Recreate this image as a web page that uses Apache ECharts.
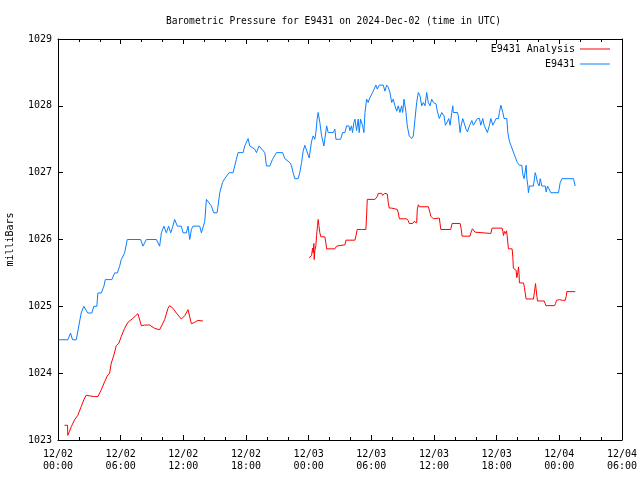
<!DOCTYPE html>
<html>
<head>
<meta charset="utf-8">
<script src="https://cdn.jsdelivr.net/npm/echarts@6/dist/echarts.min.js"></script>
<style>html,body{margin:0;padding:0;background:#fff}#c{width:640px;height:480px}</style>
</head>
<body>
<div id="c"></div>
<script>
// hours since 2024-12-02 00:00 UTC
var blueHours = [0.1,0.94,1.2,1.39,1.75,2.22,2.47,2.64,2.86,3.24,3.43,3.72,3.82,4.14,4.39,4.53,5.16,5.42,5.68,5.9,6.06,6.38,6.63,7.91,8.13,8.46,9.42,9.73,9.9,10.14,10.37,10.59,10.79,11.0,11.17,11.43,11.81,11.97,12.29,12.45,12.61,12.77,12.92,13.57,13.73,14.05,14.21,14.36,14.69,14.91,15.23,15.32,15.49,15.74,15.96,16.38,16.76,16.92,17.08,17.24,17.72,17.88,18.2,18.36,18.84,19.0,19.25,19.8,19.96,20.28,20.54,20.92,21.5,21.72,22.2,22.36,22.51,22.67,22.99,23.15,23.32,23.47,23.63,23.8,24.05,24.28,24.43,24.59,24.69,24.81,24.91,25.07,25.24,25.46,25.65,25.72,25.87,26.35,26.51,26.61,27.06,27.25,27.47,27.63,27.85,27.95,28.1,28.2,28.33,28.43,28.59,28.74,28.84,28.97,29.17,29.29,29.39,29.55,29.7,29.8,29.93,30.12,30.25,30.44,30.57,30.76,31.14,31.3,31.47,31.62,31.78,31.95,32.1,32.26,32.43,32.58,32.74,32.9,33.0,33.13,33.32,33.44,33.63,33.86,34.02,34.18,34.34,34.5,34.66,34.82,34.98,35.14,35.3,35.45,35.62,35.78,35.94,36.19,36.32,36.51,36.58,36.74,36.96,37.09,37.28,37.41,37.54,37.7,37.8,37.85,38.24,38.33,38.5,38.59,38.75,38.88,39.07,39.2,39.39,39.62,39.77,39.93,40.15,40.35,40.48,40.67,40.8,40.99,41.11,41.31,41.44,41.63,41.76,41.95,42.17,42.26,42.4,42.59,42.71,42.97,43.07,43.22,43.36,43.55,43.67,43.86,43.99,44.18,44.41,44.51,44.63,44.76,44.82,44.89,44.99,45.04,45.14,45.52,45.69,45.78,45.91,46.07,46.17,46.33,46.65,46.74,46.87,47.06,47.19,47.92,48.08,48.25,49.36,49.52];
var blueValues = [1024.5,1024.5,1024.6,1024.5,1024.5,1024.9,1025.0,1025.0,1024.9,1024.9,1025.0,1025.0,1025.2,1025.2,1025.3,1025.4,1025.4,1025.5,1025.5,1025.6,1025.7,1025.8,1026.0,1026.0,1025.9,1026.0,1026.0,1025.9,1026.1,1026.2,1026.1,1026.2,1026.1,1026.2,1026.3,1026.2,1026.2,1026.1,1026.1,1026.2,1026.0,1026.15,1026.2,1026.2,1026.1,1026.27,1026.6,1026.6,1026.5,1026.4,1026.4,1026.5,1026.7,1026.85,1026.91,1027.0,1027.0,1027.1,1027.2,1027.3,1027.3,1027.4,1027.51,1027.4,1027.35,1027.3,1027.4,1027.3,1027.1,1027.1,1027.2,1027.3,1027.3,1027.21,1027.15,1027.1,1027.0,1026.91,1026.91,1027.0,1027.15,1027.32,1027.41,1027.4,1027.22,1027.47,1027.55,1027.5,1027.6,1027.8,1027.9,1027.75,1027.55,1027.4,1027.4,1027.7,1027.6,1027.6,1027.65,1027.5,1027.5,1027.6,1027.6,1027.7,1027.7,1027.63,1027.7,1027.6,1027.75,1027.8,1027.63,1027.8,1027.6,1027.8,1027.7,1027.6,1027.9,1028.1,1028.05,1028.1,1028.11,1028.2,1028.22,1028.31,1028.25,1028.31,1028.31,1028.22,1028.31,1028.28,1028.2,1028.05,1028.1,1028.0,1027.92,1028.0,1027.9,1028.0,1027.9,1028.1,1027.9,1027.7,1027.55,1027.51,1027.55,1027.8,1028.05,1028.2,1028.15,1028.0,1028.05,1028.0,1028.2,1028.05,1028.0,1028.1,1028.05,1028.03,1027.92,1027.81,1027.81,1027.9,1027.85,1027.71,1027.76,1027.81,1027.71,1027.9,1028.0,1027.9,1027.9,1027.85,1027.6,1027.7,1027.81,1027.81,1027.65,1027.61,1027.7,1027.78,1027.71,1027.71,1027.81,1027.81,1027.71,1027.81,1027.71,1027.7,1027.6,1027.71,1027.81,1027.71,1027.71,1027.81,1027.81,1027.9,1028.01,1027.9,1027.81,1027.81,1027.6,1027.47,1027.41,1027.41,1027.28,1027.2,1027.15,1027.11,1027.11,1026.97,1026.91,1026.91,1027.11,1026.91,1026.8,1026.7,1026.8,1026.8,1027.0,1026.95,1026.85,1026.8,1026.91,1026.8,1026.8,1026.71,1026.8,1026.8,1026.7,1026.7,1026.85,1026.91,1026.91,1026.8];
var redHours = [0.62,0.91,0.94,1.1,1.27,1.58,1.9,2.22,2.47,2.7,3.02,3.5,3.82,4.14,4.46,4.72,4.94,5.1,5.35,5.58,5.83,6.06,6.38,6.69,7.17,7.65,7.81,7.98,8.29,8.77,8.94,9.25,9.73,9.89,10.21,10.53,10.69,11.01,11.33,11.65,11.81,12.13,12.45,12.61,12.77,13.09,13.4,13.57,13.88,
  19.0,
  24.05,24.21,24.28,24.37,24.43,24.5,24.53,24.59,24.69,24.76,24.85,24.91,24.98,25.07,25.17,25.55,25.65,25.72,26.51,26.67,26.99,27.47,27.57,28.43,28.52,28.65,29.07,29.22,29.48,29.55,29.61,30.35,30.51,30.6,30.66,30.99,31.08,31.3,31.53,31.62,31.72,31.95,32.04,32.48,32.58,32.68,33.39,33.54,33.63,33.96,34.09,34.21,34.34,34.4,34.5,34.59,35.46,35.62,35.69,35.88,35.94,36.03,36.51,36.58,36.65,37.6,37.73,38.5,38.59,38.69,39.45,39.55,39.68,39.77,39.93,40.1,41.44,41.56,42.52,42.59,42.65,42.74,42.84,42.94,43.0,43.07,43.13,43.48,43.55,43.6,43.77,43.86,43.93,44.03,44.09,44.15,44.18,44.57,44.66,44.76,44.82,45.52,45.62,45.72,45.78,45.85,45.91,46.55,46.65,46.71,47.54,47.63,47.73,48.02,48.3,48.56,48.66,48.72,49.52];
var redValues = [1023.22,1023.22,1023.07,1023.13,1023.2,1023.3,1023.37,1023.5,1023.6,1023.67,1023.66,1023.65,1023.65,1023.75,1023.87,1023.96,1024.0,1024.15,1024.27,1024.41,1024.45,1024.55,1024.67,1024.76,1024.82,1024.89,1024.89,1024.71,1024.72,1024.72,1024.7,1024.67,1024.65,1024.65,1024.8,1024.97,1025.01,1024.97,1024.9,1024.84,1024.81,1024.86,1024.95,1024.97,1024.74,1024.76,1024.79,1024.8,1024.78,
  null,
  1025.73,1025.71,1025.76,1025.87,1025.8,1025.94,1025.7,1025.83,1025.91,1026.06,1026.21,1026.3,1026.21,1026.1,1026.04,1026.04,1025.95,1025.86,1025.86,1025.9,1025.91,1025.92,1025.99,1025.99,1026.05,1026.15,1026.15,1026.14,1026.15,1026.37,1026.6,1026.6,1026.58,1026.65,1026.69,1026.69,1026.66,1026.69,1026.68,1026.55,1026.47,1026.47,1026.45,1026.45,1026.4,1026.31,1026.31,1026.28,1026.24,1026.24,1026.27,1026.28,1026.25,1026.45,1026.52,1026.49,1026.49,1026.4,1026.35,1026.35,1026.31,1026.32,1026.32,1026.24,1026.15,1026.15,1026.24,1026.24,1026.17,1026.05,1026.05,1026.11,1026.16,1026.15,1026.11,1026.09,1026.09,1026.17,1026.17,1026.12,1026.06,1026.12,1026.09,1026.13,1026.06,1025.95,1025.86,1025.86,1025.73,1025.57,1025.57,1025.54,1025.43,1025.51,1025.59,1025.47,1025.35,1025.35,1025.28,1025.17,1025.11,1025.11,1025.22,1025.34,1025.25,1025.15,1025.08,1025.08,1025.04,1025.01,1025.01,1025.04,1025.09,1025.1,1025.09,1025.09,1025.15,1025.22,1025.22];
var xTickLabels = ['12/02\n00:00','12/02\n06:00','12/02\n12:00','12/02\n18:00','12/03\n00:00','12/03\n06:00','12/03\n12:00','12/03\n18:00','12/04\n00:00','12/04\n06:00'];
var yTickLabels = ['1023','1024','1025','1026','1027','1028','1029'];

function pairs(xs, ys){ var out=[]; for (var i=0;i<xs.length;i++) out.push([xs[i], ys[i]]); return out; }

var FONT = 'DejaVu Sans Mono';
var chart = echarts.init(document.getElementById('c'), null, {renderer:'canvas'});
var axisCommon = {
  axisLine:{show:true, onZero:false, lineStyle:{color:'#000', width:1}},
  axisTick:{show:true, inside:true, length:5, lineStyle:{color:'#000'}},
  splitLine:{show:false}
};
chart.setOption({
  animation:false,
  backgroundColor:'#fff',
  title:{text:'Barometric Pressure for E9431 on 2024-Dec-02 (time in UTC)', left:161, top:11,
    textStyle:{fontFamily:FONT, fontSize:9.6, fontWeight:'normal', color:'#000'}},
  legend:{orient:'vertical', right:25, top:38, align:'right', itemWidth:30, itemHeight:1, itemGap:3, icon:'rect',
    textStyle:{fontFamily:FONT, fontSize:10, color:'#000', padding:[0,0,0,0], lineHeight:12},
    data:['E9431 Analysis','E9431']},
  grid:{left:58, right:18, top:39, bottom:40, containLabel:false, outerBoundsMode:'none'},
  xAxis:[
    Object.assign({type:'value', position:'bottom', min:0, max:54, interval:6,
      minorTick:{show:true, splitNumber:3, length:3, lineStyle:{color:'#000'}},
      axisLabel:{fontFamily:FONT, fontSize:10, color:'#000', margin:8, lineHeight:12,
        formatter:function(v){ return xTickLabels[Math.round(v/6)]; }}}, axisCommon),
    Object.assign({type:'value', position:'top', min:0, max:54, interval:6,
      minorTick:{show:true, splitNumber:3, length:3, lineStyle:{color:'#000'}},
      axisLabel:{show:false}}, axisCommon)
  ],
  yAxis:[
    Object.assign({type:'value', position:'left', min:1023, max:1029, interval:1,
      name:'milliBars', nameLocation:'middle', nameGap:43, nameRotate:90,
      nameTextStyle:{fontFamily:FONT, fontSize:10, color:'#000'},
      axisLabel:{fontFamily:FONT, fontSize:10, color:'#000', margin:6,
        formatter:function(v){ return yTickLabels[Math.round(v-1023)]; }}}, axisCommon),
    Object.assign({type:'value', position:'right', min:1023, max:1029, interval:1,
      axisLabel:{show:false}}, axisCommon)
  ],
  series:[
    {name:'E9431 Analysis', type:'line', data:pairs(redHours, redValues), showSymbol:false, connectNulls:false,
      lineStyle:{color:'#ff0000', width:1}, itemStyle:{color:'#ff0000'}},
    {name:'E9431', type:'line', data:pairs(blueHours, blueValues), showSymbol:false,
      lineStyle:{color:'#0a80ff', width:1}, itemStyle:{color:'#0a80ff'}}
  ]
});
</script>
</body>
</html>
